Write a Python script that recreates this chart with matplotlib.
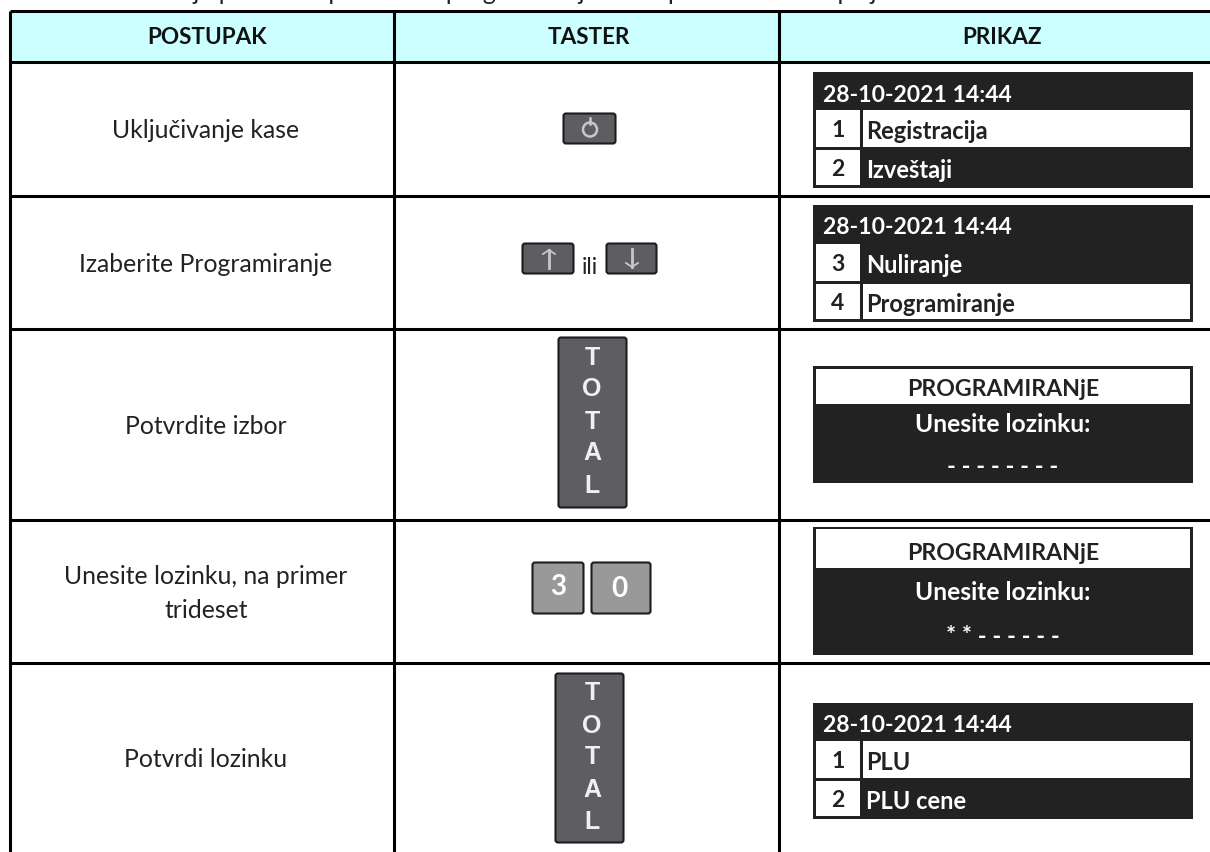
import matplotlib
matplotlib.use("Agg")
import matplotlib.pyplot as plt
from matplotlib.patches import Rectangle, FancyBboxPatch, Circle

plt.rcParams['font.family'] = ['Lato', 'DejaVu Sans']

# table content
headers = ["POSTUPAK", "TASTER", "PRIKAZ"]
steps = ["Uključivanje kase", "Izaberite Programiranje", "Potvrdite izbor",
         "Unesite lozinku, na primer\ntrideset", "Potvrdi lozinku"]
cut_line = "U ostatku tabele je prikazana procedura programiranja tačke podataka na displeju"
clock = "28-10-2021 14:44"
menu1 = [("1", "Registracija", True), ("2", "Izveštaji", False)]
menu2 = [("3", "Nuliranje", False), ("4", "Programiranje", True)]
menu5 = [("1", "PLU", True), ("2", "PLU cene", False)]
prog_title = "PROGRAMIRANjE"
prog_prompt = "Unesite lozinku:"
pass_empty = "- - - - - - - -"
pass_two = "* * - - - - - -"
total_letters = ["T", "O", "T", "A", "L"]

# layout in pixels
W, H = 1210, 852
row_y = [10.5, 62, 196, 329, 520, 663]
col_x = [10, 394, 778.5]
DARK = "#222222"
KEY = "#5e5e62"
KEY_LIGHT = "#999999"
GLYPH = "#c8c8c8"

fig = plt.figure(figsize=(W / 100, H / 100), dpi=100)
ax = fig.add_axes([0, 0, 1, 1])
ax.set_xlim(0, W)
ax.set_ylim(H, 0)
ax.axis("off")


def key(x0, y0, x1, y1, color=KEY):
    ax.add_patch(FancyBboxPatch((x0 + 2, y0 + 2), x1 - x0 - 4, y1 - y0 - 4,
                                boxstyle="round,pad=1.5,rounding_size=2.5",
                                fc=color, ec="#1c1c1c", lw=1.5))


def menu(y0, y1, rows, row_tops):
    ax.add_patch(Rectangle((813, y0), 380, y1 - y0, fc=DARK, ec="none"))
    ax.text(823, y0 + 23, clock, color="white", fontsize=16.6, fontweight="bold",
            ha="left", va="center")
    for (num, label, on), (t, b) in zip(rows, row_tops):
        ax.add_patch(Rectangle((816, t), 44, b - t, fc="white", ec="none"))
        ax.text(838, (t + b) / 2 + 2, num, color=DARK, fontsize=16.6, fontweight="bold",
                ha="center", va="center")
        if on:
            ax.add_patch(Rectangle((863, t), 327, b - t, fc="white", ec="none"))
        ax.text(866, (t + b) / 2 + 3, label, color=DARK if on else "white", fontsize=17,
                fontweight="bold", ha="left", va="center")


def prog(y0, y1, head_top, head_end, t1, t2, t3, password):
    ax.add_patch(Rectangle((813, y0), 380, y1 - y0, fc=DARK, ec="none"))
    ax.add_patch(Rectangle((816, head_top), 374, head_end - head_top, fc="white", ec="none"))
    ax.text(1003, t1, prog_title, color=DARK, fontsize=16.7, fontweight="bold",
            ha="center", va="center")
    ax.text(1003, t2, prog_prompt, color="white", fontsize=17.7, fontweight="bold",
            ha="center", va="center")
    ax.text(1003, t3, password, color="white", fontsize=17, fontweight="bold",
            ha="center", va="center")


def total_key(x0, y0, x1, y1, ys):
    key(x0, y0, x1, y1)
    for ch, yy in zip(total_letters, ys):
        ax.text(592, yy, ch, color="#f0f0f0", fontsize=18, family="Liberation Sans",
                fontweight="bold", ha="center", va="center")


# top sentence, only its lower edge is still on the page
ax.text(8, 0.5, cut_line, fontsize=17.8, color="#222222", ha="left", va="baseline", clip_on=True)

# header band
ax.add_patch(Rectangle((10, 10.5), W - 10, 51.5, fc="#ccffff", ec="none"))
for cx, name in zip([207, 589, 1002], headers):
    ax.text(cx, 38, name, color="#111111", fontsize=16.2, fontweight="bold",
            ha="center", va="center")

# grid
for y in row_y:
    ax.plot([10, W], [y, y], color="black", lw=2.2, solid_capstyle="butt")
for x in col_x:
    ax.plot([x, x], [10.5, H], color="black", lw=2.2, solid_capstyle="butt")

# first column
for i, s in enumerate(steps):
    ax.text(206, (row_y[i + 1] + (row_y + [H])[i + 2]) / 2 + 2, s, color="#222222", fontsize=17.8,
            ha="center", va="center", linespacing=1.6)

# keys
key(563, 113, 616, 144)
ax.add_patch(Circle((590, 129.5), 7, fc="none", ec=GLYPH, lw=1.8))
ax.plot([590, 590], [118, 124], color=GLYPH, lw=1.8)

key(522, 243, 574, 274)
ax.plot([549, 549], [250, 268], color=GLYPH, lw=2)
ax.plot([543, 549, 555], [254, 250, 254], color=GLYPH, lw=1.3)
ax.text(590, 267, "ili", color="#222222", fontsize=16.5, ha="center", va="center")
key(606, 243, 657, 274)
ax.plot([632, 632], [249, 267], color=GLYPH, lw=2)
ax.plot([626, 632, 638], [263, 267, 263], color=GLYPH, lw=1.3)

total_key(558, 337, 627, 508, [358, 389, 422, 453, 486])

key(532, 562, 584, 614, KEY_LIGHT)
ax.text(558, 587, "3", color="white", fontsize=20, fontweight="bold", ha="center", va="center")
key(591, 562, 651, 614, KEY_LIGHT)
ax.text(619, 589, "0", color="white", fontsize=20, fontweight="bold", ha="center", va="center")

total_key(555, 673, 624, 843, [693, 726, 757, 790, 822])

# displays
menu(72, 188, menu1, [(110, 147), (150, 185)])
menu(205, 322, menu2, [(244, 281), (284, 319)])
prog(366, 483, 369, 404, 390, 425, 467, pass_empty)
prog(527, 655, 529, 568, 553, 593, 637, pass_two)
menu(703, 819, menu5, [(741, 778), (781, 816)])

fig.savefig("out.png", dpi=100)
